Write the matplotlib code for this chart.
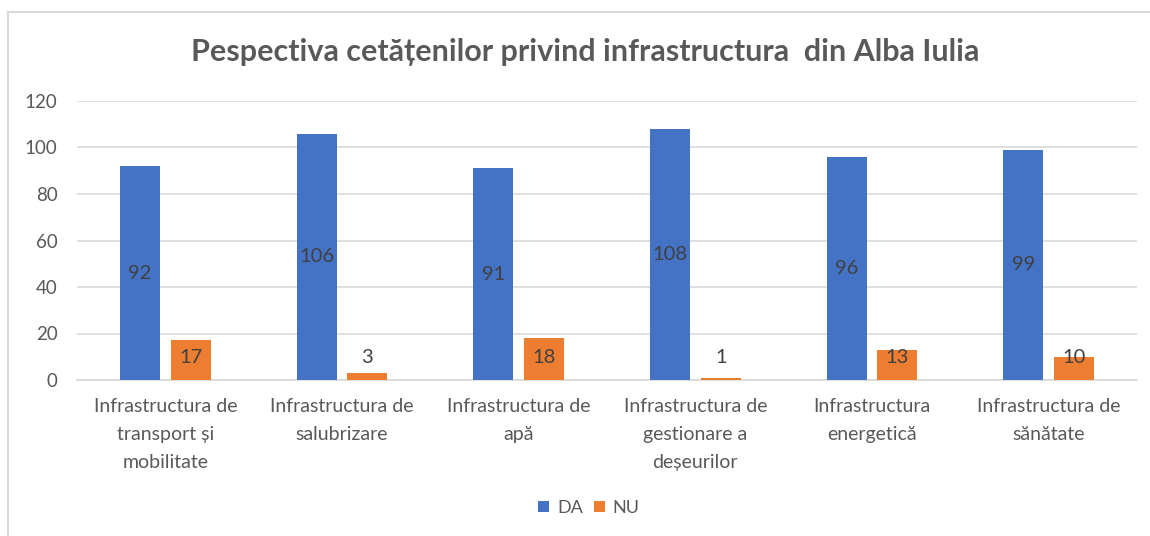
import matplotlib.pyplot as plt
import numpy as np
from matplotlib.patches import Rectangle

categories = [
    "Infrastructura de\ntransport și\nmobilitate",
    "Infrastructura de\nsalubrizare",
    "Infrastructura de\napă",
    "Infrastructura de\ngestionare a\ndeșeurilor",
    "Infrastructura\nenergetică",
    "Infrastructura de\nsănătate",
]
da_values = [92, 106, 91, 108, 96, 99]
nu_values = [17, 3, 18, 1, 13, 10]
y_ticks = [0, 20, 40, 60, 80, 100, 120]

BLUE = "#4472C4"
ORANGE = "#ED7D31"
TEXT = "#595959"
GRID = "#D9D9D9"

plt.rcParams['font.family'] = ['Lato', 'DejaVu Sans']

fig = plt.figure(figsize=(11.5, 5.36), dpi=100)
ax = fig.add_axes([77 / 1150, 1 - 380 / 536, (1137 - 77) / 1150, 279 / 536])

x = np.arange(len(categories))
w = 0.226
off = 0.144
bars_da = ax.bar(x - off, da_values, w, color=BLUE, label="DA", zorder=3)
bars_nu = ax.bar(x + off, nu_values, w, color=ORANGE, label="NU", zorder=3)

for b, v in zip(bars_da, da_values):
    ax.text(b.get_x() + b.get_width() / 2, v / 2, str(v), ha="center", va="center",
            fontsize=14.5, color="#404040", zorder=4)
# NU labels sit at a common height in the original
for b, v in zip(bars_nu, nu_values):
    ax.text(b.get_x() + b.get_width() / 2, 9.5, str(v), ha="center", va="center",
            fontsize=14.5, color="#404040", zorder=4)

ax.set_xlim(-0.5, len(categories) - 0.5)
ax.set_ylim(0, 120)
ax.set_yticks(y_ticks)
ax.set_yticklabels([str(t) for t in y_ticks], fontsize=13.5, color=TEXT)
ax.set_xticks(x)
ax.set_xticklabels(categories, fontsize=14, color=TEXT, linespacing=1.8, va="top")
ax.tick_params(axis="both", length=0)
ax.tick_params(axis="y", pad=14)
ax.tick_params(axis="x", pad=13)
ax.grid(axis="y", color=GRID, linewidth=1.2, zorder=0)
for s in ["top", "right", "left"]:
    ax.spines[s].set_visible(False)
ax.spines["bottom"].set_color(GRID)
ax.spines["bottom"].set_linewidth(1.2)

fig.text(585 / 1150, 1 - 52 / 536, "Pespectiva cetățenilor privind infrastructura  din Alba Iulia",
         ha="center", va="center", fontsize=22, fontweight="bold", color=TEXT)

fig.legend(handles=[bars_da, bars_nu], labels=["DA", "NU"], loc="center",
           bbox_to_anchor=(589 / 1150, 1 - 508 / 536), ncol=2, frameon=False,
           fontsize=13, labelcolor=TEXT, handlelength=0.6, handleheight=0.6,
           handletextpad=0.45, columnspacing=0.6)

# chart area border (cropped at right and bottom)
fig.patches.append(Rectangle((8 / 1150, -0.1), 1.2, 1 - 12 / 536 + 0.1, transform=fig.transFigure,
                             fill=False, edgecolor=GRID, linewidth=1.5))

fig.savefig("out.png", dpi=100)
